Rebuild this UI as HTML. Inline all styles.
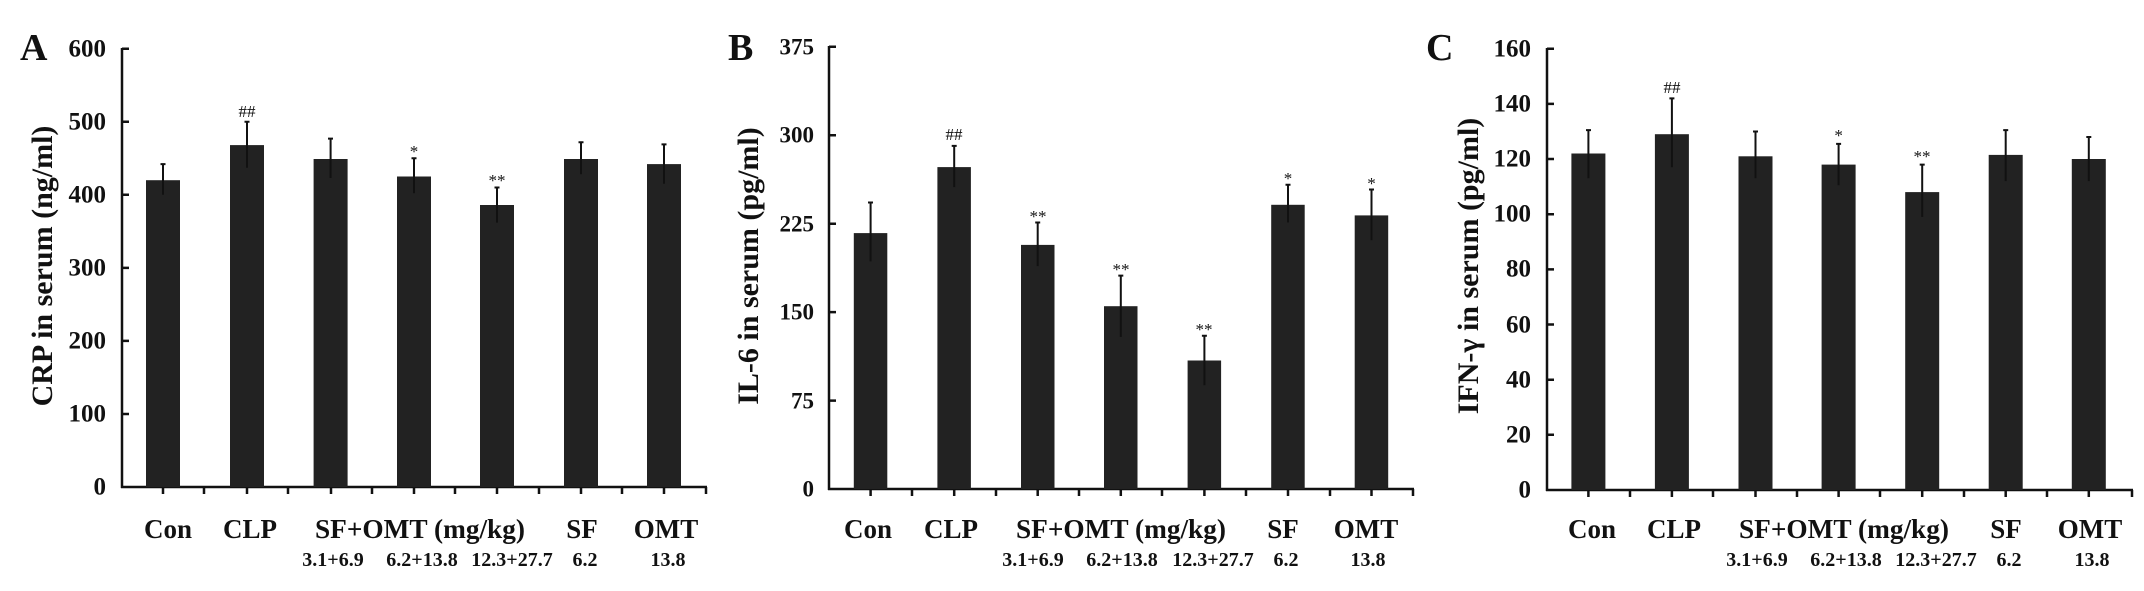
<!DOCTYPE html>
<html><head><meta charset="utf-8"><style>
html,body{margin:0;padding:0;background:#fff;}
svg{display:block;}
text{font-family:"Liberation Serif",serif;font-weight:bold;fill:#111;}
.t{font-size:25px;text-anchor:end;dominant-baseline:central;}
.tb{font-size:23px;text-anchor:end;dominant-baseline:central;}
.x{font-size:27px;text-anchor:middle;}
.s{font-size:20px;text-anchor:middle;}
.m{font-size:17px;text-anchor:middle;font-weight:normal;}
.yt{font-size:30px;text-anchor:middle;}
.p{font-size:38px;}
rect{fill:#222;}
line,path{stroke:#111;}
</style></head><body>
<svg width="2144" height="591" viewBox="0 0 2144 591" xmlns="http://www.w3.org/2000/svg">
<!-- Panel A -->
<text class="p" x="20" y="60">A</text>
<text class="yt" transform="translate(52,266) rotate(-90)">CRP in serum (ng/ml)</text>
<g stroke-width="2.5">
<line x1="122" y1="48" x2="122" y2="488"/><line x1="121" y1="487" x2="707" y2="487"/>
<path d="M122 48.7h7M122 121.8h7M122 194.8h7M122 267.9h7M122 340.9h7M122 414h7" fill="none"/>
<path d="M163 487v7M204 487v7M247 487v7M288 487v7M331 487v7M372 487v7M414 487v7M455 487v7M497 487v7M539 487v7M581 487v7M622 487v7M664 487v7M706 487v7" fill="none"/>
</g>
<text class="t" x="106" y="49">600</text><text class="t" x="106" y="122">500</text><text class="t" x="106" y="195">400</text><text class="t" x="106" y="268">300</text><text class="t" x="106" y="341">200</text><text class="t" x="106" y="414">100</text><text class="t" x="106" y="487">0</text>
<rect x="146" y="180.2" width="34" height="306.8"/><rect x="230" y="145.1" width="34" height="341.9"/><rect x="313.6" y="159" width="34" height="328"/><rect x="397" y="176.5" width="34" height="310.5"/><rect x="480" y="205" width="34" height="282"/><rect x="564" y="159" width="34" height="328"/><rect x="647" y="164.1" width="34" height="322.9"/>
<g stroke-width="2" fill="none">
<path d="M163 194.8V164.1M160.5 164.1h5"/><path d="M247 167.8V121.7M244.5 121.7h5"/><path d="M330.6 178V138.6M328 138.6h5"/><path d="M414 193.3V158.3M411.5 158.3h5"/><path d="M497 222.6V187.5M494.5 187.5h5"/><path d="M581 174.3V142.2M578.5 142.2h5"/><path d="M664 183.8V144.4M661.5 144.4h5"/>
</g>
<text class="m" x="247" y="117">##</text><text class="m" x="414" y="157">*</text><text class="m" x="497" y="186">**</text>
<text class="x" x="168" y="538">Con</text><text class="x" x="250" y="538">CLP</text><text class="x" x="420" y="538" textLength="210" lengthAdjust="spacingAndGlyphs">SF+OMT (mg/kg)</text><text class="x" x="582" y="538">SF</text><text class="x" x="666" y="538">OMT</text>
<text class="s" x="333" y="566">3.1+6.9</text><text class="s" x="422" y="566">6.2+13.8</text><text class="s" x="512" y="566">12.3+27.7</text><text class="s" x="585" y="566">6.2</text><text class="s" x="668" y="566">13.8</text>

<!-- Panel B -->
<text class="p" x="728" y="60">B</text>
<text class="yt" transform="translate(758,266) rotate(-90)">IL-6 in serum (pg/ml)</text>
<g stroke-width="2.5">
<line x1="829" y1="46" x2="829" y2="490"/><line x1="828" y1="489" x2="1414" y2="489"/>
<path d="M829 46.8h7M829 135.2h7M829 223.7h7M829 312.1h7M829 400.6h7" fill="none"/>
<path d="M870.6 489v7M912 489v7M954.2 489v7M996 489v7M1037.7 489v7M1079 489v7M1120.8 489v7M1162 489v7M1204.4 489v7M1246 489v7M1288 489v7M1330 489v7M1371.5 489v7M1413 489v7" fill="none"/>
</g>
<text class="tb" x="814" y="47">375</text><text class="tb" x="814" y="135">300</text><text class="tb" x="814" y="224">225</text><text class="tb" x="814" y="312">150</text><text class="tb" x="814" y="401">75</text><text class="tb" x="814" y="489">0</text>
<rect x="853.8" y="233.1" width="33.5" height="255.9"/><rect x="937.4" y="167.1" width="33.5" height="321.9"/><rect x="1021" y="244.9" width="33.5" height="244.1"/><rect x="1104" y="306.2" width="33.5" height="182.8"/><rect x="1187.6" y="360.5" width="33.5" height="128.5"/><rect x="1271.2" y="204.8" width="33.5" height="284.2"/><rect x="1354.7" y="215.4" width="33.5" height="273.6"/>
<g stroke-width="2" fill="none">
<path d="M870.6 261.4V202.5M868 202.5h5"/><path d="M954.2 187.1V145.9M951.7 145.9h5"/><path d="M1037.7 266.1V222.5M1035.2 222.5h5"/><path d="M1120.8 336.9V275.6M1118.3 275.6h5"/><path d="M1204.4 385.2V335.7M1201.9 335.7h5"/><path d="M1288 222.5V184.8M1285.5 184.8h5"/><path d="M1371.5 240.2V189.5M1369 189.5h5"/>
</g>
<text class="m" x="954" y="140">##</text><text class="m" x="1038" y="222">**</text><text class="m" x="1121" y="275">**</text><text class="m" x="1204" y="335">**</text><text class="m" x="1288" y="184">*</text><text class="m" x="1371.5" y="189">*</text>
<text class="x" x="868" y="538">Con</text><text class="x" x="951" y="538">CLP</text><text class="x" x="1121" y="538" textLength="210" lengthAdjust="spacingAndGlyphs">SF+OMT (mg/kg)</text><text class="x" x="1283" y="538">SF</text><text class="x" x="1366" y="538">OMT</text>
<text class="s" x="1033" y="566">3.1+6.9</text><text class="s" x="1122" y="566">6.2+13.8</text><text class="s" x="1213" y="566">12.3+27.7</text><text class="s" x="1286" y="566">6.2</text><text class="s" x="1368" y="566">13.8</text>

<!-- Panel C -->
<text class="p" x="1426" y="60">C</text>
<text class="yt" transform="translate(1478,266) rotate(-90)">IFN-γ in serum (pg/ml)</text>
<g stroke-width="2.5">
<line x1="1547" y1="48" x2="1547" y2="491"/><line x1="1546" y1="490" x2="2133" y2="490"/>
<path d="M1547 48.7h7M1547 103.9h7M1547 159h7M1547 214.2h7M1547 269.4h7M1547 324.5h7M1547 379.7h7M1547 434.8h7" fill="none"/>
<path d="M1588.4 490v7M1630 490v7M1671.9 490v7M1713 490v7M1755.5 490v7M1797 490v7M1838.6 490v7M1880 490v7M1922.2 490v7M1964 490v7M2005.7 490v7M2047 490v7M2088.8 490v7M2132 490v7" fill="none"/>
</g>
<text class="t" x="1531" y="49">160</text><text class="t" x="1531" y="104">140</text><text class="t" x="1531" y="159">120</text><text class="t" x="1531" y="214">100</text><text class="t" x="1531" y="269">80</text><text class="t" x="1531" y="325">60</text><text class="t" x="1531" y="380">40</text><text class="t" x="1531" y="435">20</text><text class="t" x="1531" y="490">0</text>
<rect x="1571.4" y="153.5" width="34" height="336.5"/><rect x="1654.9" y="134.2" width="34" height="355.8"/><rect x="1738.5" y="156.3" width="34" height="333.7"/><rect x="1821.6" y="164.6" width="34" height="325.4"/><rect x="1905.2" y="192.1" width="34" height="297.9"/><rect x="1988.7" y="154.9" width="34" height="335.1"/><rect x="2071.8" y="159" width="34" height="331"/>
<g stroke-width="2" fill="none">
<path d="M1588.4 178.3V130.1M1586 130.1h5"/><path d="M1671.9 167.3V98.4M1669.4 98.4h5"/><path d="M1755.5 178.3V131.5M1753 131.5h5"/><path d="M1838.6 185.2V143.9M1836.1 143.9h5"/><path d="M1922.2 216.9V164.6M1919.7 164.6h5"/><path d="M2005.7 181.1V130.1M2003.2 130.1h5"/><path d="M2088.8 181.1V137M2086.3 137h5"/>
</g>
<text class="m" x="1672" y="93">##</text><text class="m" x="1838.6" y="141">*</text><text class="m" x="1922" y="162">**</text>
<text class="x" x="1592" y="538">Con</text><text class="x" x="1674" y="538">CLP</text><text class="x" x="1844" y="538" textLength="210" lengthAdjust="spacingAndGlyphs">SF+OMT (mg/kg)</text><text class="x" x="2006" y="538">SF</text><text class="x" x="2090" y="538">OMT</text>
<text class="s" x="1757" y="566">3.1+6.9</text><text class="s" x="1846" y="566">6.2+13.8</text><text class="s" x="1936" y="566">12.3+27.7</text><text class="s" x="2009" y="566">6.2</text><text class="s" x="2092" y="566">13.8</text>
</svg>
</body></html>
